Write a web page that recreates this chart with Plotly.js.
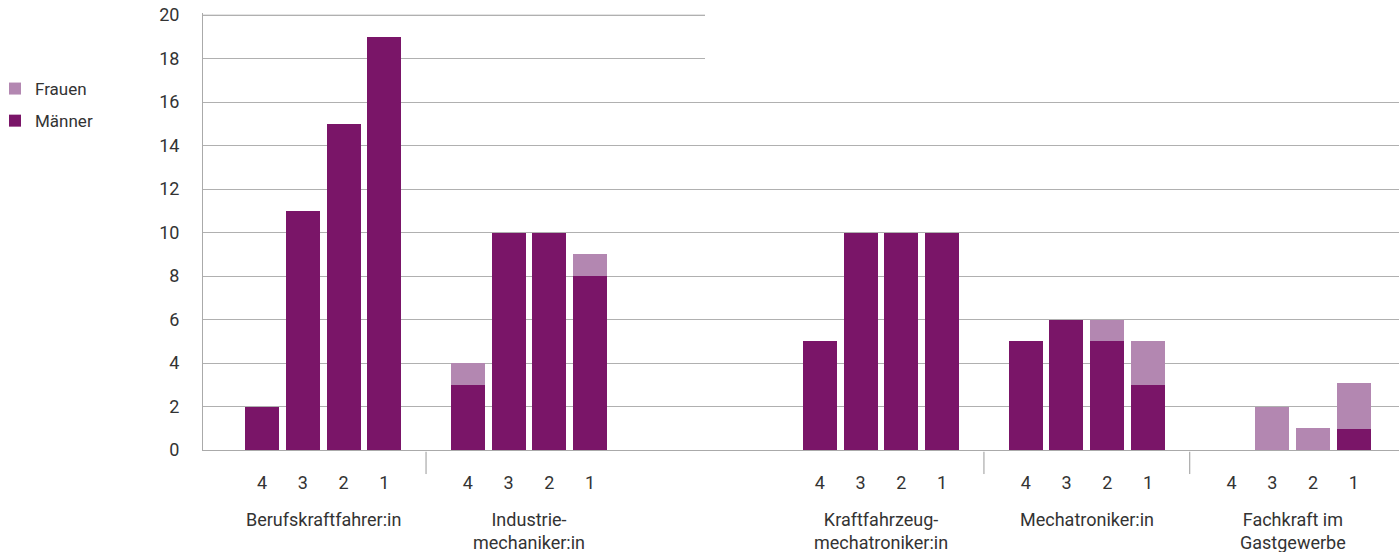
<!DOCTYPE html>
<html><head><meta charset="utf-8">
<script src="https://cdn.plot.ly/plotly-3.0.1.min.js"></script>
<style>html,body{margin:0;padding:0;background:#fff}#chart{width:1399px;height:552px}</style>
</head><body><div id="chart"></div>
<script>
// ---- data ----
const groups = ["Berufskraftfahrer:in", "Industrie-<br>mechaniker:in", "Kraftfahrzeug-<br>mechatroniker:in", "Mechatroniker:in", "Fachkraft im<br>Gastgewerbe"];
const levels = ["4", "3", "2", "1"];
const maenner = [[2, 11, 15, 19], [3, 10, 10, 8], [5, 10, 10, 10], [5, 6, 5, 3], [0, 0, 0, 0.95]];
const frauen  = [[0, 0, 0, 0], [1, 0, 0, 1], [0, 0, 0, 0], [0, 0, 1, 2], [0, 2, 1, 2.15]];
const yTicks = [0, 2, 4, 6, 8, 10, 12, 14, 16, 18, 20];

// ---- layout helpers ----
const GROUP_STEP = 5.05, EXTRA_GAP = 3.59;
const separatorAfter = [0, 2, 3];
function xpos(g, k) { return g * GROUP_STEP + (g >= 2 ? EXTRA_GAP : 0) + k; }

const xs = [], yM = [], yF = [], tv = [], tt = [];
groups.forEach((gName, g) => {
  levels.forEach((lv, k) => {
    xs.push(xpos(g, k)); yM.push(maenner[g][k]); yF.push(frauen[g][k]);
    tv.push(xpos(g, k)); tt.push(lv);
  });
});

const cM = '#7a1568', cF = '#b387b1';
const FAM = 'Roboto, sans-serif';
const font = {family: FAM, size: 17, color: '#333'};

const traces = [
  {type: 'bar', name: 'Männer', x: xs, y: yM, marker: {color: cM}, legendgroup: 'm', legendrank: 2, hoverinfo: 'skip'},
  {type: 'bar', name: 'Frauen', x: xs, y: yF, marker: {color: cF}, legendgroup: 'f', legendrank: 1, hoverinfo: 'skip'}
];

const annotations = groups.map((gName, g) => ({
  text: gName, x: xpos(g, 1.5), xref: 'x', y: 0, yref: 'paper', yanchor: 'top',
  yshift: -57, showarrow: false, font: {family: FAM, size: 18, color: '#333'}
}));

const shapes = separatorAfter.map(g => {
  const sx = (xpos(g, 3) + xpos(g + 1, 0)) / 2;
  return {type: 'line', xref: 'x', yref: 'paper', x0: sx, x1: sx, y0: -0.004, y1: -0.055,
          line: {color: '#999', width: 1}};
});
// top gridline (only drawn on the left part, as in the original)
shapes.push({type: 'line', xref: 'paper', yref: 'y', x0: 0, x1: (705 - 203) / 1196, y0: 20, y1: 20,
             line: {color: '#b0b0b0', width: 1}, layer: 'below'});
// white box hiding the top gridlines on the right side
shapes.push({type: 'rect', xref: 'paper', yref: 'paper', x0: (705 - 203) / 1196, x1: 1.01, y0: 0.85, y1: 1.05,
             fillcolor: '#fff', line: {width: 0}, layer: 'above'});

const layout = {
  width: 1399, height: 552,
  margin: {l: 203, r: 0, t: 13, b: 102, autoexpand: false},
  paper_bgcolor: '#fff', plot_bgcolor: '#fff',
  barmode: 'stack', bargap: 0.165,
  font: font,
  showlegend: true,
  legend: {xref: 'paper', yref: 'paper', x: -208 / 1196, y: 1 - 58 / 437, xanchor: 'left', yanchor: 'top',
           traceorder: 'grouped', tracegroupgap: 7, font: font, bgcolor: 'rgba(0,0,0,0)'},
  xaxis: {range: [-1.448, 27.90], tickmode: 'array', tickvals: tv, ticktext: tt, showgrid: false, zeroline: false,
          showline: true, linecolor: '#aaa', linewidth: 1, ticks: 'outside', ticklen: 16, tickcolor: 'rgba(0,0,0,0)',
          tickfont: {family: FAM, size: 18, color: '#333'}, fixedrange: true},
  yaxis: {range: [0, 20.1], tickmode: 'array', tickvals: yTicks, showgrid: true, gridcolor: '#b0b0b0', gridwidth: 1,
          zeroline: false, showline: true, linecolor: '#aaa', linewidth: 1, ticks: 'outside', ticklen: 19,
          tickcolor: 'rgba(0,0,0,0)', tickfont: {family: FAM, size: 18, color: '#333'}, fixedrange: true},
  annotations: annotations,
  shapes: shapes
};

Plotly.newPlot('chart', traces, layout, {displayModeBar: false, staticPlot: true});
</script></body></html>
